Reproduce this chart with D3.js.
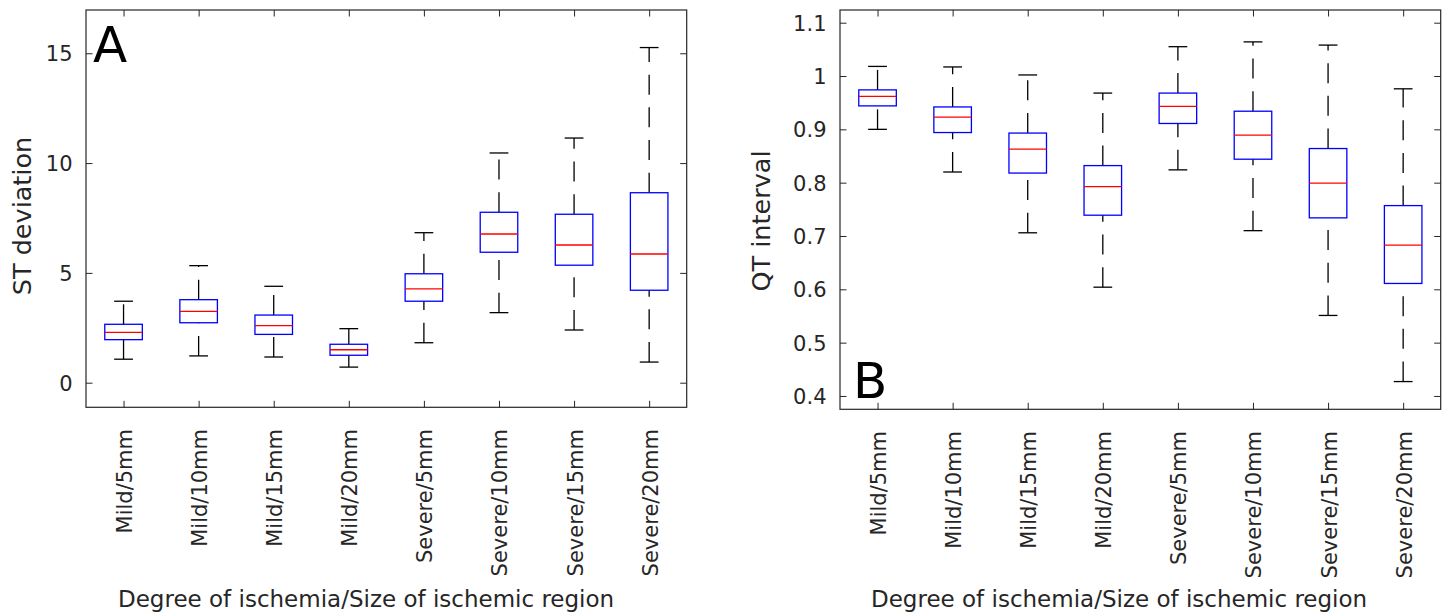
<!DOCTYPE html>
<html>
<head>
<meta charset="utf-8">
<script src="https://cdn.jsdelivr.net/npm/d3@7"></script>
<style>
body { margin: 0; background: #fff; }
text { font-family: "DejaVu Sans", sans-serif; }
</style>
</head>
<body>
<svg id="fig" width="1447" height="616"></svg>
<script>
var categories = ["Mild/5mm", "Mild/10mm", "Mild/15mm", "Mild/20mm",
                  "Severe/5mm", "Severe/10mm", "Severe/15mm", "Severe/20mm"];

// panel A - ST deviation
var stUpper  = [3.71, 5.33, 4.39, 2.46, 6.83, 10.46, 11.14, 15.26];
var stQ3     = [2.66, 3.78, 3.08, 1.75, 4.96, 7.76, 7.67, 8.65];
var stMedian = [2.29, 3.25, 2.60, 1.50, 4.27, 6.77, 6.27, 5.86];
var stQ1     = [1.96, 2.73, 2.20, 1.25, 3.71, 5.94, 5.35, 4.21];
var stLower  = [1.07, 1.22, 1.17, 0.71, 1.82, 3.19, 2.40, 0.94];
var stTicks  = [0, 5, 10, 15];

// panel B - QT interval
var qtUpper  = [1.018, 1.017, 1.002, 0.968, 1.055, 1.064, 1.058, 0.976];
var qtQ3     = [0.974, 0.942, 0.893, 0.832, 0.968, 0.934, 0.864, 0.757];
var qtMedian = [0.962, 0.923, 0.863, 0.7925, 0.943, 0.889, 0.799, 0.683];
var qtQ1     = [0.944, 0.894, 0.818, 0.739, 0.911, 0.844, 0.734, 0.611];
var qtLower  = [0.900, 0.820, 0.706, 0.604, 0.824, 0.710, 0.551, 0.427];
var qtTicks  = [0.4, 0.5, 0.6, 0.7, 0.8, 0.9, 1.0, 1.1];

var xTitle = "Degree of ischemia/Size of ischemic region";
var axisColor = "#262626";

var svg = d3.select("#fig");

function drawPanel(p) {
    var x = d3.scalePoint().domain(categories).range([p.left, p.right]).padding(0.5),
        y = d3.scaleLinear().domain(p.yDomain).range([p.bottom, p.top]);
    var step = x.step(),
        boxW = step * 0.5,
        capW = step * 0.25;

    var g = svg.append("g").attr("class", "panel");

    // inward ticks on all four sides, labels only left/bottom
    var yAxis = d3.axisLeft(y).tickValues(p.ticks).tickSize(-6.5).tickPadding(13.5).tickFormat(p.format);
    var gy = g.append("g").attr("transform", "translate(" + p.left + ",0)").call(yAxis);
    g.append("g").attr("transform", "translate(" + p.right + ",0)")
        .call(d3.axisRight(y).tickValues(p.ticks).tickSize(-6.5).tickFormat(""));
    var gx = g.append("g").attr("transform", "translate(0," + p.bottom + ")")
        .call(d3.axisBottom(x).tickSize(-6.5));
    g.append("g").attr("transform", "translate(0," + p.top + ")")
        .call(d3.axisTop(x).tickSize(-6.5).tickFormat(""));

    g.selectAll(".domain").remove();
    g.selectAll(".tick line").attr("stroke", axisColor).attr("stroke-width", 1);
    gy.selectAll(".tick text").attr("fill", axisColor).style("font-size", "21px")
        .attr("dy", "0.35em");
    gx.selectAll(".tick text")
        .attr("fill", axisColor).style("font-size", "21px")
        .attr("transform", "rotate(-90)")
        .attr("text-anchor", "end")
        .attr("x", -(p.labelTop - p.bottom))
        .attr("y", 0)
        .attr("dy", "0.38em");

    g.append("rect")
        .attr("x", p.left).attr("y", p.top)
        .attr("width", p.right - p.left).attr("height", p.bottom - p.top)
        .attr("fill", "none").attr("stroke", axisColor).attr("stroke-width", 1.2);

    var boxes = g.selectAll(".box").data(categories).enter().append("g").attr("class", "box");

    // whiskers (dashed), drawn upward from Q3 and from the lower whisker
    boxes.append("line")
        .attr("x1", function(d) { return x(d); }).attr("x2", function(d) { return x(d); })
        .attr("y1", function(d, i) { return y(p.q3[i]); })
        .attr("y2", function(d, i) { return y(p.upper[i]); })
        .attr("stroke", "#000").attr("stroke-width", 1.3).attr("stroke-dasharray", "20,12.7");
    boxes.append("line")
        .attr("x1", function(d) { return x(d); }).attr("x2", function(d) { return x(d); })
        .attr("y1", function(d, i) { return y(p.lower[i]); })
        .attr("y2", function(d, i) { return y(p.q1[i]); })
        .attr("stroke", "#000").attr("stroke-width", 1.3).attr("stroke-dasharray", "20,12.7");

    // caps
    [p.upper, p.lower].forEach(function(arr) {
        boxes.append("line")
            .attr("x1", function(d) { return x(d) - capW / 2; })
            .attr("x2", function(d) { return x(d) + capW / 2; })
            .attr("y1", function(d, i) { return y(arr[i]); })
            .attr("y2", function(d, i) { return y(arr[i]); })
            .attr("stroke", "#000").attr("stroke-width", 1.3);
    });

    boxes.append("rect")
        .attr("x", function(d) { return x(d) - boxW / 2; })
        .attr("width", boxW)
        .attr("y", function(d, i) { return y(p.q3[i]); })
        .attr("height", function(d, i) { return y(p.q1[i]) - y(p.q3[i]); })
        .attr("fill", "none").attr("stroke", "#0000ff").attr("stroke-width", 1.3);

    boxes.append("line")
        .attr("x1", function(d) { return x(d) - boxW / 2; })
        .attr("x2", function(d) { return x(d) + boxW / 2; })
        .attr("y1", function(d, i) { return y(p.median[i]); })
        .attr("y2", function(d, i) { return y(p.median[i]); })
        .attr("stroke", "#ff0000").attr("stroke-width", 1.3);

    // labels
    g.append("text")
        .attr("transform", "translate(" + p.yTitleX + "," + p.yTitleY + ") rotate(-90)")
        .attr("text-anchor", "middle")
        .attr("fill", axisColor).style("font-size", "25.5px")
        .text(p.yTitle);
    g.append("text")
        .attr("x", p.xTitleX).attr("y", 606.5)
        .attr("fill", axisColor).style("font-size", "23px")
        .text(xTitle);
    g.append("text")
        .attr("x", p.letterX).attr("y", p.letterY)
        .attr("fill", "#000").style("font-size", "50px")
        .text(p.letter);
}

drawPanel({
    left: 86, right: 686.7, top: 10, bottom: 407.3,
    yDomain: [-1.12, 16.97], ticks: stTicks, format: d3.format("d"),
    upper: stUpper, q3: stQ3, median: stMedian, q1: stQ1, lower: stLower,
    labelTop: 429,
    yTitle: "ST deviation", yTitleX: 31, yTitleY: 216,
    xTitleX: 118,
    letter: "A", letterX: 93, letterY: 61.7
});

drawPanel({
    left: 840, right: 1440.7, top: 10, bottom: 409.3,
    yDomain: [0.375, 1.1238], ticks: qtTicks, format: function(d) { return String(+d.toFixed(1)); },
    upper: qtUpper, q3: qtQ3, median: qtMedian, q1: qtQ1, lower: qtLower,
    labelTop: 431,
    yTitle: "QT interval", yTitleX: 770, yTitleY: 221,
    xTitleX: 871,
    letter: "B", letterX: 853, letterY: 398
});
</script>
</body>
</html>
